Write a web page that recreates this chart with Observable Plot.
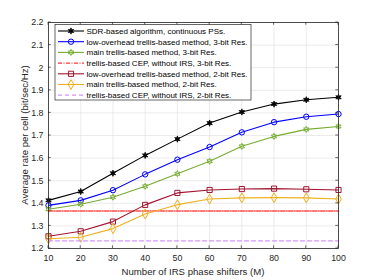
<!DOCTYPE html>
<html><head><meta charset="utf-8">
<script src="https://cdn.jsdelivr.net/npm/d3@7"></script>
<script src="https://cdn.jsdelivr.net/npm/@observablehq/plot@0.6"></script>
<style>
html,body{margin:0;padding:0;background:#fff;}
svg{font-family:"Liberation Sans",Arial,sans-serif;}
</style></head><body>
<div id="chart"></div>
<script>
const M = [10,20,30,40,50,60,70,80,90,100];
const sdr = [1.413,1.452,1.533,1.612,1.684,1.755,1.804,1.839,1.858,1.869];
const low3 = [1.391,1.413,1.458,1.528,1.593,1.649,1.714,1.759,1.783,1.795];
const main3 = [1.374,1.396,1.427,1.475,1.531,1.586,1.652,1.696,1.727,1.740];
const cep3 = 1.366;
const low2 = [1.254,1.276,1.319,1.393,1.446,1.459,1.463,1.465,1.462,1.459];
const main2 = [1.243,1.250,1.288,1.353,1.394,1.419,1.424,1.425,1.424,1.419];
const cep2 = 1.234;
const xTicks = [10,20,30,40,50,60,70,80,90,100];
const yTicks = [1.2,1.3,1.4,1.5,1.6,1.7,1.8,1.9,2,2.1,2.2];
const xLabel = "Number of IRS phase shifters (M)";
const yLabel = "Average rate per cell (bit/sec/Hz)";
const legendLabels = [
  "SDR-based algorithm, continuous PSs.",
  "low-overhead trellis-based method, 3-bit Res.",
  "main trellis-based method, 3-bit Res.",
  "trellis-based CEP, without IRS, 3-bit Res.",
  "low-overhead trellis-based method, 2-bit Res.",
  "main trellis-based method, 2-bit Res.",
  "trellis-based CEP, without IRS, 2-bit Res."
];

// custom hexagram symbol
const hexagram = {
  draw(ctx, size) {
    const R = Math.sqrt(size / Math.PI) * 1.25, r = R * 0.5;
    for (let k = 0; k < 12; k++) {
      const a = -Math.PI / 2 + k * Math.PI / 6;
      const rr = k % 2 ? r : R;
      const x = rr * Math.cos(a), y = rr * Math.sin(a);
      if (k === 0) ctx.moveTo(x, y); else ctx.lineTo(x, y);
    }
    ctx.closePath();
  }
};
const asterisk6 = {
  draw(ctx, size) {
    const R = Math.sqrt(size / Math.PI) * 1.3, r = R * 0.45;
    for (let k = 0; k < 12; k++) {
      const a = -Math.PI / 2 + k * Math.PI / 6;
      const rr = k % 2 ? r : R;
      const x = rr * Math.cos(a), y = rr * Math.sin(a);
      if (k === 0) ctx.moveTo(x, y); else ctx.lineTo(x, y);
    }
    ctx.closePath();
  }
};

const series = [
  {vals: sdr, color: "#000000", symbol: asterisk6, fill: "#000000", r: 2.4, sw: 0.8},
  {vals: low3, color: "#0000ff", symbol: "circle", fill: "none", r: 2.7, sw: 1},
  {vals: main3, color: "#77ac30", symbol: hexagram, fill: "none", r: 2.4, sw: 1},
  {vals: null, color: "#ff0000", dash: "4,1.5,1,1.5", cval: cep3},
  {vals: low2, color: "#a2142f", symbol: "square", fill: "none", r: 2.9, sw: 1},
  {vals: main2, color: "#edb120", symbol: "diamond", fill: "none", r: 3.0, sw: 1},
  {vals: null, color: "#cc77ff", dash: "4,3", cval: cep2}
];

const marks = [
  Plot.gridX(xTicks, {stroke: "#dedede", strokeOpacity: 1, strokeWidth: 0.6}),
  Plot.gridY(yTicks, {stroke: "#dedede", strokeOpacity: 1, strokeWidth: 0.6}),
];
series.forEach(s => {
  if (s.vals) {
    const data = M.map((m,i) => ({m, v: s.vals[i]}));
    marks.push(Plot.line(data, {x: "m", y: "v", stroke: s.color, strokeWidth: 1.1}));
    marks.push(Plot.dot(data, {x: "m", y: "v", stroke: s.color, fill: s.fill, symbol: s.symbol, r: s.r, strokeWidth: s.sw}));
  } else {
    const data = M.map(m => ({m, v: s.cval}));
    marks.push(Plot.line(data, {x: "m", y: "v", stroke: s.color, strokeWidth: s.dash === "4,3" ? 1.2 : 1.5, strokeDasharray: s.dash, strokeOpacity: s.dash === "4,3" ? 0.8 : 0.7}));
  }
});
marks.push(
  Plot.frame({stroke: "#262626", strokeWidth: 0.8}),
  Plot.axisX(xTicks, {anchor: "bottom", tickSize: 0, tickPadding: 6, fontSize: 8.8, color: "#262626", label: null}),
  Plot.axisY(yTicks, {anchor: "left", tickSize: 0, tickPadding: 5, fontSize: 8.8, color: "#262626", label: null,
    tickFormat: d => d3.format("")(+d.toFixed(1))})
);

const chart = Plot.plot({
  width: 374, height: 280,
  marginLeft: 48, marginRight: 36, marginTop: 22, marginBottom: 32,
  x: {domain: [10,100], ticks: xTicks},
  y: {domain: [1.2,2.2], ticks: yTicks},
  style: {fontFamily: "Liberation Sans, Arial, sans-serif", fontSize: "8.8px", color: "#262626", background: "#fff"},
  marks
});
document.getElementById("chart").appendChild(chart);

const svg = d3.select(chart);
const xS = chart.scale("x"), yS = chart.scale("y");
// inward ticks (box style)
const tg = svg.append("g").attr("stroke", "#262626").attr("stroke-width", 0.7);
xTicks.forEach(t => {
  const x = xS.apply(t);
  tg.append("line").attr("x1", x).attr("x2", x).attr("y1", 248).attr("y2", 245.3);
  tg.append("line").attr("x1", x).attr("x2", x).attr("y1", 22).attr("y2", 24.7);
});
yTicks.forEach(t => {
  const y = yS.apply(t);
  tg.append("line").attr("x1", 48).attr("x2", 50.7).attr("y1", y).attr("y2", y);
  tg.append("line").attr("x1", 338).attr("x2", 335.3).attr("y1", y).attr("y2", y);
});

// axis labels
svg.append("text").attr("x", 193).attr("y", 272).attr("dy", "0.35em")
  .attr("text-anchor", "middle").attr("font-size", 9.6).attr("fill", "#262626").text(xLabel);
svg.append("text").attr("transform", "translate(25,135) rotate(-90)").attr("dy", "0.35em")
  .attr("text-anchor", "middle").attr("font-size", 9.6).attr("fill", "#262626").text(yLabel);

// legend
const lg = svg.append("g");
lg.append("rect").attr("x", 55).attr("y", 24.5).attr("width", 196).attr("height", 75.5)
  .attr("fill", "#fff").attr("stroke", "#262626").attr("stroke-width", 0.7);
const symMap = {circle: d3.symbolCircle, square: d3.symbolSquare, diamond: d3.symbolDiamond};
legendLabels.forEach((lab, i) => {
  const s = series[i];
  const y = 31 + i * 10.7;
  lg.append("line").attr("x1", 58).attr("x2", 84).attr("y1", y).attr("y2", y)
    .attr("stroke", s.color).attr("stroke-width", s.vals ? 1.1 : (s.dash === "4,3" ? 1.2 : 1.4))
    .attr("stroke-dasharray", s.dash || null).attr("stroke-opacity", s.vals ? 1 : 0.8);
  if (s.vals) {
    const area = Math.PI * s.r * s.r;
    const type = typeof s.symbol === "string" ? symMap[s.symbol] : s.symbol;
    lg.append("path").attr("d", d3.symbol(type, area)())
      .attr("transform", `translate(71,${y})`)
      .attr("stroke", s.color).attr("fill", s.fill).attr("stroke-width", s.sw);
  }
  lg.append("text").attr("x", 86.5).attr("y", y).attr("dy", "0.35em")
    .attr("text-anchor", "start")
    .attr("font-size", 8).attr("fill", "#000").text(lab);
});
</script>
</body></html>
